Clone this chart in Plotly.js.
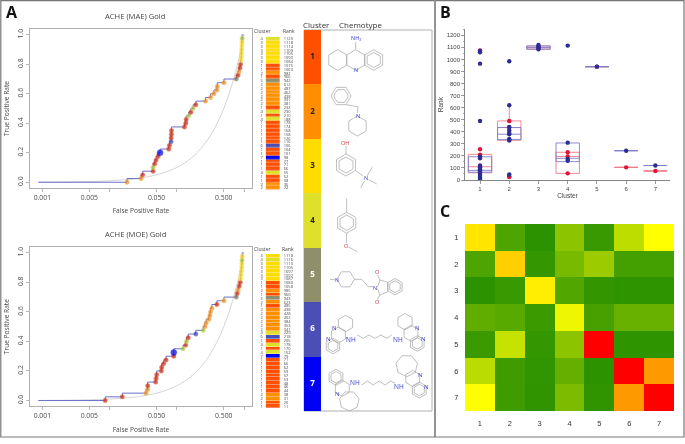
<!DOCTYPE html>
<html>
<head>
<meta charset="utf-8">
<script src="https://cdn.plot.ly/plotly-3.0.1.min.js"></script>
<style>html,body{margin:0;padding:0;background:#fff}#chart{width:685px;height:444px;filter:blur(0.4px)}</style>
</head>
<body>
<div id="chart"></div>
<script>
// ---- Data: ROC curves (lowest rank first)
const tprSteps = [0,.025,.05,.075,.1,.125,.15,.175,.2,.225,.25,.275,.3,.325,.35,.375,.4,.425,.45,.475,.5,.525,.55,.575,.6,.625,.65,.675,.7,.725,.75,.775,.8,.825,.85,.875,.9,.925,.95,.975];
const fprMAE = [.01816,.0294,.0311,.0444,.0444,.0470,.0492,.0526,.0564,.0760,.0778,.0823,.0823,.0833,.0833,.130,.136,.138,.151,.162,.175,.192,.268,.318,.357,.395,.400,.503,.769,.813,.842,.871,.891,.905,.912,.918,.923,.928,.933,.938];
const clusterMAE = [2,2,1,1,4,1,1,1,7,1,1,6,1,1,1,1,1,1,4,1,4,1,2,2,2,2,2,2,5,1,2,1,1,3,3,3,3,3,3,4];
const rankMAE = [22,36,38,52,55,66,71,77,98,101,104,106,116,126,158,168,174,178,188,210,230,232,381,391,438,462,487,612,942,966,982,1063,1075,1084,1093,1105,1109,1114,1118,1120];
const fprMOE = [.00861,.01545,.0348,.0369,.0369,.0486,.0492,.0503,.0590,.0597,.0640,.0693,.0902,.0902,.124,.136,.139,.148,.192,.247,.262,.274,.300,.311,.318,.333,.395,.503,.769,.794,.822,.851,.881,.891,.905,.915,.925,.93,.935,.94];
const clusterMOE = [1,1,2,2,1,1,1,1,1,1,1,1,1,7,4,1,4,1,6,4,2,2,2,2,2,2,1,2,5,1,2,1,1,3,3,3,3,3,4,3];
const rankMOE = [11,20,31,38,44,46,48,53,57,59,62,66,71,79,152,170,178,205,218,229,341,353,384,402,428,438,485,623,943,960,985,1058,1080,1087,1092,1097,1105,1110,1116,1118];
const randomLine = [.00087,.002,.005,.01,.02,.03,.05,.07,.1,.13,.16,.2,.25,.3,.35,.4,.45,.5,.55,.6,.65,.7,.75,.8,.85,.9,.95,1];
const fprTicks = [.001,.005,.01,.05,.1,.5,1];
const fprLabels = ['0.001','0.005','','0.050','','0.500',''];
const tprTicks = [0,.2,.4,.6,.8,1];
const tprLabels = ['0.0','0.2','0.4','0.6','0.8','1.0'];

// ---- Data: clusters
const clusterIds = [1,2,3,4,5,6,7];
const clusterColors = ['#ff5000','#ff8f00','#ffdc00','#dfe02c','#8f8f6c','#4b4fb5','#0000f5'];
const pointColors = ['#c92a14','#ee8a1c','#f5d420','#a8c030','#77775a','#3c40b0','#0000e0'];
const pointEdges = ['#e8481c','#ffa030','#ffe44a','#cfdc40','#8f8f6c','#5b5fc5','#0000f5'];

// ---- Data: panel B, box summaries and points
const boxQ1Blue = [65,335,1085,152,940,243,120];
const boxMedBlue = [80,380,1098,180,940,243,120];
const boxQ3Blue = [193,435,1112,307,940,243,120];
const boxQ1Red = [60,330,1085,55,940,105,75];
const boxMedRed = [110,435,1098,195,940,105,75];
const boxQ3Red = [213,490,1112,230,940,105,75];
const boxHiRed = [213,620,1112,230,940,105,75];
const redX = [1,1,1,1,1,2,2,2,2,3,4,4,4,5,6,7];
const redY = [1075,255,210,185,110,490,435,30,25,1100,230,195,55,940,105,75];
const blueX = [1,1,1,1,1,1,1,1,1,1,1,1,1,1,1,2,2,2,2,2,2,2,2,2,2,3,3,3,3,4,4,4,4,5,6,7];
const blueY = [1070,1060,965,490,195,180,120,105,90,80,65,50,35,20,8,985,620,440,410,390,380,340,335,328,45,1120,1108,1095,1085,1115,310,175,160,940,243,120];

// ---- Data: panel C similarity matrix
const simLabels = [1,2,3,4,5,6,7];
const simRow1 = [.55,.083,0,.229,.031,.345,.5];
const simRow2 = [.083,.595,.024,.182,.267,.059,.059];
const simRow3 = [0,.031,.533,.092,.019,.007,.007];
const simRow4 = [.125,.106,.035,.46,.064,.144,.144];
const simRow5 = [.035,.365,.024,.229,1,.007,.007];
const simRow6 = [.34,.045,.012,.134,.002,1,.7];
const simRow7 = [.5,.045,.009,.19,.009,.7,1];

// ---- Layout helpers (pixel positions of the figure)
const W = 685, H = 444;
const dx = (a,b) => [a/W,b/W];
const dy = (t,b) => [1-b/H,1-t/H];
const X = p => (p/W).toFixed(5);
const Y = p => (1-p/H).toFixed(5);
const FONT = '"Open Sans", "Noto Sans", sans-serif';
const SANS = '"Liberation Sans", sans-serif';
const GREY = '#aeb0b2';
const TXT = '#4a4a4a';

const pos = a => a.map((_,i)=>i);
const colorOf = (c,arr) => c.map(k=>arr[k-1]);
const discreteScale = clusterColors.flatMap((col,i)=>[[i/7,col],[(i+1)/7,col]]);

function rocTraces(fpr,clusters,xa,ya){
  return [
    {type:'scatter',mode:'lines',x:randomLine,y:randomLine,xaxis:xa,yaxis:ya,line:{color:'#c9c9c9',width:0.8,shape:'spline'},hoverinfo:'skip'},
    {type:'scatter',mode:'lines',x:[.00087].concat(fpr,[.985]),y:[0].concat(tprSteps,[1]),xaxis:xa,yaxis:ya,line:{color:'#6c71c6',width:1,shape:'vh'}},
    {type:'scatter',mode:'markers',x:fpr,y:tprSteps,xaxis:xa,yaxis:ya,
      marker:{size:clusters.map(c=>c===7?6:(c===3?4.6:4.4)),color:colorOf(clusters,pointColors),line:{width:0.5,color:colorOf(clusters,pointEdges)}}}
  ];
}
function stripTraces(ranks,clusters,xa,ya,ya2){
  return [
    {type:'heatmap',x:[0],y:pos(ranks),z:clusters.map(c=>[c]),xaxis:xa,yaxis:ya,zmin:.5,zmax:7.5,colorscale:discreteScale,showscale:false,ygap:0.35},
    {type:'scatter',mode:'markers',x:ranks.map(()=>0),y:pos(ranks),xaxis:xa,yaxis:ya2,marker:{opacity:0,size:1},hoverinfo:'skip'}
  ];
}
const rocX = (dom,anchor,title) => ({domain:dom,anchor,type:'log',range:[-3.184,.119],tickmode:'array',tickvals:fprTicks,ticktext:fprLabels,ticks:'outside',ticklen:3,tickwidth:.6,tickcolor:'#888',
  showgrid:false,zeroline:false,showline:true,mirror:true,linecolor:GREY,linewidth:1,tickfont:{family:FONT,size:6.8,color:TXT},title:{text:title,font:{family:FONT,size:6.6,color:TXT},standoff:7}});
const rocY = (dom,anchor,title) => ({domain:dom,anchor,range:[-.039,1.039],tickmode:'array',tickvals:tprTicks,ticktext:tprLabels,tickangle:-90,ticks:'outside',ticklen:3,tickwidth:.6,tickcolor:'#888',
  showgrid:false,zeroline:false,showline:true,mirror:true,linecolor:GREY,linewidth:1,tickfont:{family:FONT,size:6.8,color:TXT},title:{text:title,font:{family:FONT,size:6.6,color:TXT},standoff:5}});
const stripX = anchor => ({domain:dx(265.7,280),anchor,range:[-.5,.5],visible:false});
const stripY = (dom,anchor,clusters) => ({domain:dom,anchor,range:[-.5,39.5],tickmode:'array',tickvals:pos(clusters),ticktext:clusters.map(String),ticks:'outside',ticklen:1,tickcolor:'rgba(0,0,0,0)',showgrid:false,zeroline:false,showline:false,tickfont:{family:FONT,size:4,color:TXT}});
const rankY = (dom,anchor,over,ranks) => ({domain:dom,anchor,overlaying:over,side:'right',range:[-.5,39.5],tickmode:'array',tickvals:pos(ranks),ticktext:ranks.map(String),ticks:'outside',ticklen:2,tickcolor:'rgba(0,0,0,0)',showgrid:false,zeroline:false,showline:false,tickfont:{family:FONT,size:4,color:TXT}});

const traces = [
  ...rocTraces(fprMAE,clusterMAE,'x','y'),
  ...rocTraces(fprMOE,clusterMOE,'x2','y2'),
  ...stripTraces(rankMAE,clusterMAE,'x3','y3','y8'),
  ...stripTraces(rankMOE,clusterMOE,'x4','y4','y9'),
  {type:'heatmap',x:[0],y:clusterIds,z:clusterIds.map(c=>[c]),xaxis:'x5',yaxis:'y5',zmin:.5,zmax:7.5,colorscale:discreteScale,showscale:false},
  {type:'scatter',mode:'text',x:clusterIds.map(()=>0),y:clusterIds,text:clusterIds.map(String),xaxis:'x5',yaxis:'y5',textposition:'middle center',
    textfont:{family:FONT,size:8,weight:700,color:['#222','#222','#222','#222','#fff','#fff','#fff']}},
  {type:'box',x:clusterIds,q1:boxQ1Red,median:boxMedRed,q3:boxQ3Red,lowerfence:boxQ1Red,upperfence:boxHiRed,width:.8,whiskerwidth:0,boxpoints:false,xaxis:'x6',yaxis:'y6',line:{color:'#f27a86',width:.9},fillcolor:'rgba(0,0,0,0)'},
  {type:'box',x:clusterIds,q1:boxQ1Blue,median:boxMedBlue,q3:boxQ3Blue,lowerfence:boxQ1Blue,upperfence:boxQ3Blue,width:.8,whiskerwidth:0,boxpoints:false,xaxis:'x6',yaxis:'y6',line:{color:'#7b7fd0',width:.9},fillcolor:'rgba(0,0,0,0)'},
  {type:'scatter',mode:'markers',x:redX,y:redY,xaxis:'x6',yaxis:'y6',marker:{size:4.4,color:'#e0153a'}},
  {type:'scatter',mode:'markers',x:blueX,y:blueY,xaxis:'x6',yaxis:'y6',marker:{size:4.4,color:'#2c2c92'}},
  {type:'heatmap',x:simLabels,y:simLabels,z:[simRow1,simRow2,simRow3,simRow4,simRow5,simRow6,simRow7],xaxis:'x7',yaxis:'y7',zmin:0,zmax:1,showscale:false,
    colorscale:[[0,'#2b9200'],[.5,'#ffff00'],[1,'#ff0000']]}
];

// ---- Chemotype sketches (illustrations, not data)
const BOND = '#a4a4a4';
function ring(cx,cy,r,n,rot){
  let d='';
  for(let i=0;i<n;i++){const a=(rot+i*360/n)*Math.PI/180;
    d+=(i?'L':'M')+X(cx+r*Math.cos(a))+','+Y(cy+r*Math.sin(a));}
  return d+'Z';
}
function chain(pts){return pts.map((p,i)=>(i?'L':'M')+X(p[0])+','+Y(p[1])).join('');}
const paths = [
  // 1 tacrine
  ring(337.7,60,10.3,6,90),ring(355.7,60,10.3,6,90),ring(373.7,60,10.3,6,90),ring(373.7,60,7.6,6,90),
  chain([[355.7,49.7],[355.7,42]]),
  // 2 benzylpiperidine
  ring(341,96,10,6,0),ring(341,96,7.3,6,0),ring(357.5,126,10,6,90),
  chain([[346,104.6],[357.7,106.7],[357.7,113]]),
  // 3 phenol amine
  ring(346,165,11,6,90),ring(346,165,8,6,90),
  chain([[346,154],[346,146]]),chain([[355.5,170.5],[363,176]]),
  chain([[367,176],[372.3,167.3]]),chain([[368.5,179.5],[376.7,184]]),chain([[364.5,181],[360.7,187.7]]),
  // 4 methoxy toluene
  chain([[346.7,198.3],[346.7,212]]),ring(346.7,222.7,10.5,6,90),ring(346.7,222.7,7.7,6,90),
  chain([[346.7,233.2],[346.3,243]]),chain([[348.5,247],[357.3,251.7]]),
  // 5 phthalimide
  ring(345.7,279.3,8.7,6,0),chain([[330,279.3],[335,279.8]]),
  chain([[354.4,279.3],[361.7,279.3],[368.3,286.7],[373,286.7]]),
  chain([[377.5,287],[380,280],[387.7,282.3],[387.7,291.7],[380,295],[377.5,288.5]]),
  ring(395,286.7,8.2,6,90),ring(395,286.7,6,6,90),
  chain([[380,280],[377.5,275]]),chain([[380,295],[377.5,299]]),
  // 6 bis-tacrine-like
  ring(345.5,323.5,8.2,6,90),ring(338.5,335,8,6,90),ring(333,346,7.8,6,90),ring(333,346,5.6,6,90),
  chain([[345,338],[348,338]]),
  chain([[357.3,335],[363.3,338.3],[369,335],[375,338.3],[381,335],[386.7,338.3],[391.7,335]]),
  ring(405,321.7,8.2,6,90),ring(411,333.3,8,6,90),ring(417.3,343.5,7.8,6,90),ring(417.3,343.5,5.6,6,90),
  // 7 heptyl dimer
  ring(336,377.3,8,6,90),ring(336,377.3,5.8,6,90),ring(342.3,388.3,8,6,90),ring(349.3,401,10,7,90),
  chain([[361.7,385],[367.3,381],[373.3,385],[379.3,381],[385,385],[390.7,381],[395,383.3]]),
  ring(406.7,365.7,11,7,90),ring(412.7,378.5,8,6,90),ring(419.3,390,8,6,90),ring(419.3,390,5.8,6,90)
];
const shapes = [
  {type:'rect',xref:'paper',yref:'paper',x0:0.8/W,x1:684/W,y0:1-437/H,y1:1-0.6/H,line:{color:'#777',width:1.2},layer:'below'},
  {type:'line',xref:'paper',yref:'paper',x0:435/W,x1:435/W,y0:1-437/H,y1:1,line:{color:'#888',width:1.8},layer:'below'},
  {type:'rect',xref:'paper',yref:'paper',x0:304/W,x1:432/W,y0:1-411/H,y1:1-30/H,line:{color:GREY,width:1},layer:'below'},
  ...paths.map(p=>({type:'path',xref:'paper',yref:'paper',path:p,line:{color:BOND,width:.7},layer:'above'}))
];

// ---- Text placed on the figure
function note(px,py,text,size,color,extra){
  return Object.assign({xref:'paper',yref:'paper',x:px/W,y:1-py/H,text,showarrow:false,xanchor:'center',yanchor:'middle',font:{family:FONT,size,color}},extra||{});
}
const BL='#3838c8', RD='#d83040';
const annotations = [
  note(12,12,'<b>A</b>',16,'#111'),note(445,12,'<b>B</b>',16,'#111'),note(445,211,'<b>C</b>',16,'#111'),
  note(135,16,'ACHE (MAE) Gold',7.6,'#444'),note(135,234,'ACHE (MOE) Gold',7.6,'#444'),
  note(262,31,'Cluster',5,'#444'),note(289,31,'Rank',5,'#444'),
  note(262,249,'Cluster',5,'#444'),note(288,249,'Rank',5,'#444'),
  note(316.5,25,'Cluster',8,'#333'),note(361,25,'Chemotype',8,'#333'),
  note(355.7,38.3,'NH<sub>2</sub>',5.5,BL),note(355.5,70.2,'N',5.5,BL),
  note(357.7,116,'N',5.5,BL),note(345.3,142.7,'OH',5.5,RD),note(365.7,178.3,'N',5.5,BL),
  note(346,245.7,'O',5.5,RD),note(337,280,'N',5,BL),note(375.3,287.7,'N',5.5,BL),note(377,272.3,'O',5.5,RD),note(377,301.7,'O',5.5,RD),
  note(334,328.3,'N',6,BL),note(328.3,339,'N',6,BL),note(350.7,339.3,'NH',6.5,BL),note(398.3,339.3,'NH',6.5,BL),note(417,328.3,'N',6,BL),note(423.3,339.3,'N',6,BL),
  note(337.3,394.3,'N',6,BL),note(355,382.7,'NH',6.5,BL),note(399.3,386.7,'NH',6.5,BL),note(420.3,375.3,'N',6,BL),note(426.7,386.7,'N',6,BL)
];

const layout = {
  width:W,height:H,margin:{l:0,r:0,t:0,b:0},paper_bgcolor:'#fff',plot_bgcolor:'rgba(0,0,0,0)',showlegend:false,boxmode:'overlay',
  font:{family:FONT},
  xaxis:rocX(dx(30,252),'y','False Positive Rate'),
  yaxis:rocY(dy(29,188),'x','True Positive Rate'),
  xaxis2:rocX(dx(30,252),'y2','False Positive Rate'),
  yaxis2:rocY(dy(247,406.3),'x2','True Positive Rate'),
  xaxis3:stripX('y3'),yaxis3:stripY(dy(36.7,190),'x3',clusterMAE),
  xaxis4:stripX('y4'),yaxis4:stripY(dy(254,408.3),'x4',clusterMOE),
  yaxis8:rankY(dy(36.7,190),'x3','y3',rankMAE),
  yaxis9:rankY(dy(254,408.3),'x4','y4',rankMOE),
  xaxis5:{domain:dx(304,321),anchor:'y5',range:[-.5,.5],visible:false},
  yaxis5:{domain:dy(30,411),anchor:'x5',range:[7.5,.5],visible:false},
  xaxis6:{domain:dx(465,670),anchor:'y6',range:[.486,7.5],tickmode:'array',tickvals:clusterIds,ticks:'outside',ticklen:3,tickwidth:.6,tickcolor:'#555',showgrid:false,zeroline:false,showline:true,linecolor:'#666',linewidth:.8,
    tickfont:{family:SANS,size:6,color:'#444'},title:{text:'Cluster',font:{family:SANS,size:6.5,color:'#444'},standoff:1}},
  yaxis6:{domain:dy(29.3,180),anchor:'x6',range:[0,1250],dtick:100,tick0:0,ticks:'outside',ticklen:3,tickwidth:.6,tickcolor:'#555',minor:{dtick:50,ticks:'outside',ticklen:1.5,tickwidth:.5,tickcolor:'#555'},showgrid:false,zeroline:false,showline:true,linecolor:'#666',linewidth:.8,
    tickfont:{family:SANS,size:6,color:'#444'},title:{text:'Rank',font:{family:SANS,size:6.5,color:'#444'},standoff:2}},
  xaxis7:{domain:dx(465,674),anchor:'y7',range:[.5,7.5],tickmode:'array',tickvals:simLabels,ticks:'outside',ticklen:5,tickcolor:'rgba(0,0,0,0)',showgrid:false,zeroline:false,showline:false,tickfont:{family:SANS,size:7.5,color:'#333'}},
  yaxis7:{domain:dy(224,411),anchor:'x7',range:[7.5,.5],tickmode:'array',tickvals:simLabels,ticks:'outside',ticklen:4,tickcolor:'rgba(0,0,0,0)',showgrid:false,zeroline:false,showline:false,tickfont:{family:SANS,size:7.5,color:'#333'}},
  shapes,annotations
};
Plotly.newPlot('chart',traces,layout,{displayModeBar:false,staticPlot:true});
</script>
</body>
</html>
